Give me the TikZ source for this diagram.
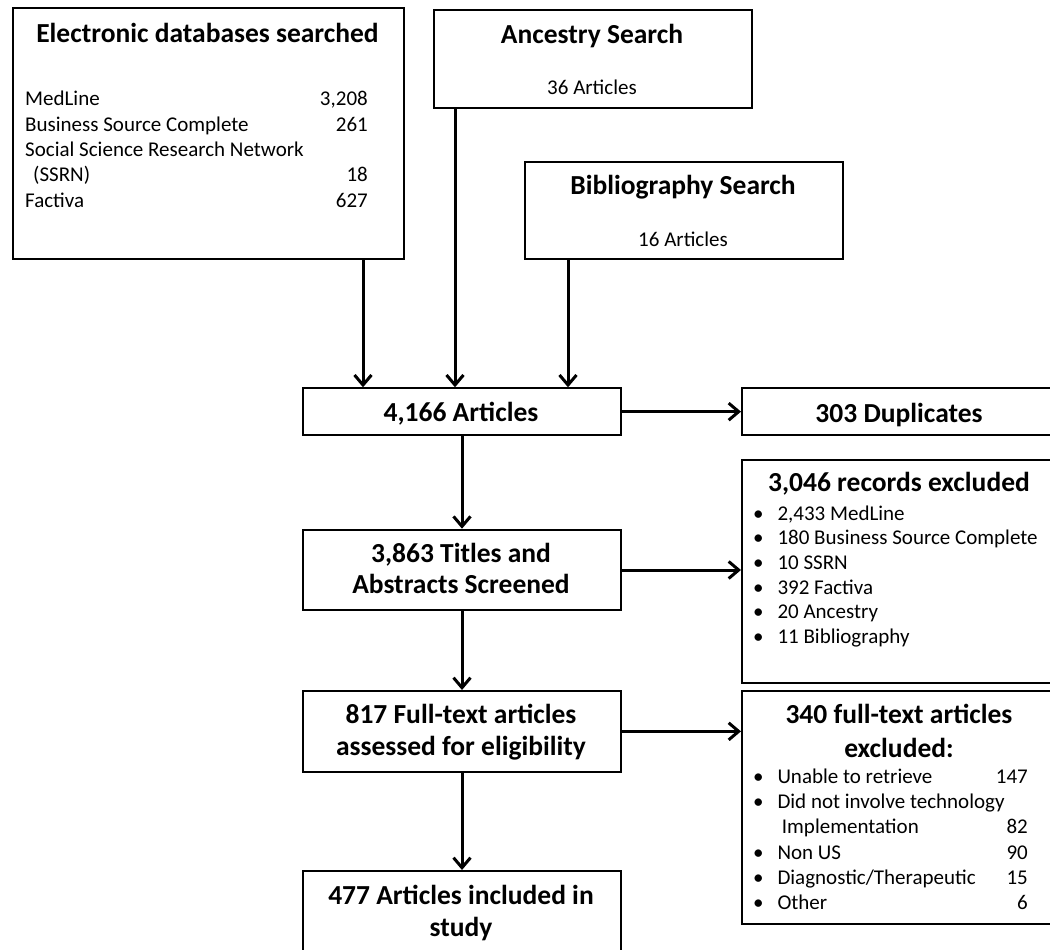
\documentclass[tikz,border=0pt]{standalone}
\usepackage{fontspec}
\setmainfont{Carlito}
\usetikzlibrary{arrows.meta,calc}
\begin{document}
\begin{tikzpicture}[x=1pt,y=-1pt,
  box/.style={draw, line width=2pt, inner sep=0pt, anchor=north west},
  arr/.style={-{Straight Barb[length=10pt,width=17pt]}, line width=3pt},
  hd/.style={font=\fontsize{27.5}{33}\selectfont\bfseries, inner sep=0pt, anchor=base},
  tx/.style={font=\fontsize{21}{25}\selectfont, inner sep=0pt, anchor=base},
  txl/.style={tx, anchor=base west},
  txr/.style={tx, anchor=base east},
]
\useasboundingbox (0,0) rectangle (1050,950);
\clip (0,0) rectangle (1050,950);

% ---------- boxes ----------
\node[box, minimum width=391pt, minimum height=251pt] (elec) at (12,7) {};
\node[box, minimum width=318pt, minimum height=97.5pt] (anc) at (433,9) {};
\node[box, minimum width=318pt, minimum height=97pt] (bib) at (524,161) {};
\node[box, minimum width=318pt, minimum height=46.7pt] (art) at (302,387.3) {};
\node[box, minimum width=316pt, minimum height=46.7pt] (dup) at (741,387.3) {};
\node[box, minimum width=318pt, minimum height=80.6pt] (scr) at (302,528.7) {};
\node[box, minimum width=316pt, minimum height=222.7pt] (exc) at (741,459) {};
\node[box, minimum width=318pt, minimum height=80.7pt] (full) at (302,690) {};
\node[box, minimum width=316pt, minimum height=233.3pt] (ex2) at (741,690) {};
\node[box, minimum width=318pt, minimum height=130pt] (inc) at (302,870) {};

% ---------- texts ----------
\node[hd] (elecT) at (207.5,42.7) {Electronic databases searched};
\node[txl] (e1) at (25,106) {MedLine};
\node[txr] (e1n) at (368,106) {3,208};
\node[txl] (e2) at (25,131.6) {Business Source Complete};
\node[txr] (e2n) at (368,131.6) {261};
\node[txl] (e3) at (25,156.8) {Social Science Research Network};
\node[txl] (e4) at (33,181.8) {(SSRN)};
\node[txr] (e4n) at (368,181.8) {18};
\node[txl] (e5) at (25,207.3) {Factiva};
\node[txr] (e5n) at (368,207.3) {627};

\node[hd] (ancT) at (592,43.3) {Ancestry Search};
\node[tx] (ancN) at (592,94.3) {36 Articles};
\node[hd] (bibT) at (683,194.3) {Bibliography Search};
\node[tx] (bibN) at (683,246) {16 Articles};

\node[hd] (artT) at (461,421.7) {4,166 Articles};
\node[hd] (dupT) at (899,422.7) {303 Duplicates};
\node[hd] (scrT1) at (461,562.7) {3,863 Titles and};
\node[hd] (scrT2) at (461,593.3) {Abstracts Screened};
\node[hd] (fullT1) at (461,723.3) {817 Full-text articles};
\node[hd] (fullT2) at (461,755.7) {assessed for eligibility};
\node[hd] (incT1) at (461,904) {477 Articles included in};
\node[hd] (incT2) at (461,936.7) {study};

\node[hd] (excT) at (899,491.7) {3,046 records excluded};
\foreach \t [count=\i from 0] in {{2,433 MedLine},{180 Business Source Complete},{10 SSRN},{392 Factiva},{20 Ancestry},{11 Bibliography}}{
  \node[tx] (xb\i) at (758.3,520+24.7*\i) {\textbullet};
  \node[txl] (xt\i) at (777.3,520+24.7*\i) {\t};
}

\node[hd] (ex2T1) at (899,723.3) {340 full-text articles};
\node[hd] (ex2T2) at (899,757.3) {excluded:};
\node[tx] (yb0) at (758.3,783.5) {\textbullet};
\node[txl] (yt0) at (777.3,783.5) {Unable to retrieve};
\node[txr] (yn0) at (1028,783.5) {147};
\node[tx] (yb1) at (758.3,808.7) {\textbullet};
\node[txl] (yt1) at (777.3,808.7) {Did not involve technology};
\node[txl] (yt2) at (781.7,833.9) {Implementation};
\node[txr] (yn2) at (1028,833.9) {82};
\node[tx] (yb3) at (758.3,859.1) {\textbullet};
\node[txl] (yt3) at (777.3,859.1) {Non US};
\node[txr] (yn3) at (1028,859.1) {90};
\node[tx] (yb4) at (758.3,884.3) {\textbullet};
\node[txl] (yt4) at (777.3,884.3) {Diagnostic/Therapeutic};
\node[txr] (yn4) at (1028,884.3) {15};
\node[tx] (yb5) at (758.3,909.5) {\textbullet};
\node[txl] (yt5) at (777.3,909.5) {Other};
\node[txr] (yn5) at (1028,909.5) {6};

% ---------- connectors ----------
\coordinate (c1) at (363,0);
\coordinate (c2) at (455,0);
\coordinate (c3) at (568,0);
\draw[arr] (c1 |- elec.south) -- (c1 |- art.north);
\draw[arr] (c2 |- anc.south) -- (c2 |- art.north);
\draw[arr] (c3 |- bib.south) -- (c3 |- art.north);
\draw[arr] (art.east) -- (art.east -| dup.west);
\draw[arr] (art.south) -- (scr.north);
\draw[arr] (scr.east) -- (scr.east -| exc.west);
\draw[arr] (scr.south) -- (full.north);
\draw[arr] (full.east) -- (full.east -| ex2.west);
\draw[arr] (full.south) -- (inc.north);
\end{tikzpicture}
\end{document}
